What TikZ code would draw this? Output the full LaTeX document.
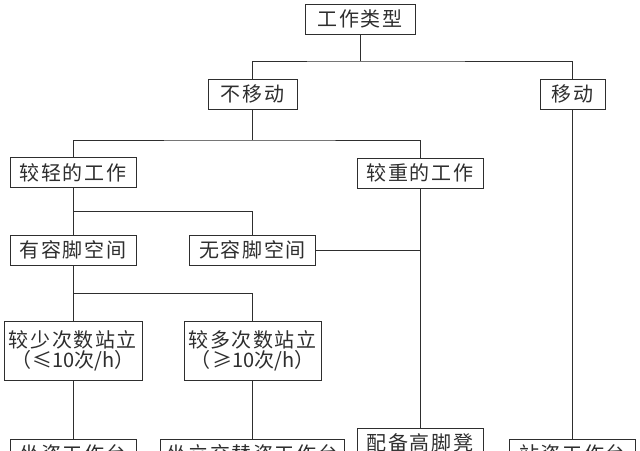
\documentclass[tikz,border=0pt]{standalone}
\usepackage{fontspec}
\setmainfont{Noto Sans CJK SC}[LetterSpace=8]
\usetikzlibrary{calc}
\definecolor{ink}{gray}{0.18}
\newcommand{\tight}[1]{{\addfontfeature{LetterSpace=0}#1}}
\tikzset{
  box/.style={draw=ink, line width=1pt, fill=white, inner sep=0pt, minimum height=30pt,
    font=\fontsize{20}{20}\selectfont, text=ink, align=center},
  link/.style={draw=ink, line width=0.9pt}
}
\begin{document}
\begin{tikzpicture}[x=1pt,y=-1pt]
\fill[white] (0,0) rectangle (640,450);
\useasboundingbox (0,0) rectangle (640,450);
\clip (0,0) rectangle (640,450);
% nodes
\node[box, minimum width=110pt] (top)   at (360,19)    {工作类型};
\node[box, minimum width=89pt]  (nm)    at (252.5,94)  {不移动};
\node[box, minimum width=65pt]  (mv)    at (572.5,94)  {移动};
\node[box, minimum width=126pt] (light) at (73,172.5)  {较轻的工作};
\node[box, minimum width=126pt] (heavy) at (420,173)   {较重的工作};
\node[box, minimum width=126pt] (yes)   at (73,250)    {有容脚空间};
\node[box, minimum width=126pt] (no)    at (252.5,250) {无容脚空间};
\node[box, minimum width=138pt, minimum height=59pt] (few)  at (73,350.5)
  {较少次数站立\\（≤\tight{10}次\tight{/h}）};
\node[box, minimum width=137pt, minimum height=59pt] (many) at (252.5,350.5)
  {较多次数站立\\（≥\tight{10}次\tight{/h}）};
\node[box, minimum width=126pt] (b1) at (73,454)    {坐姿工作台};
\node[box, minimum width=184pt] (b2) at (252.5,454) {坐立交替姿工作台};
\node[box, minimum width=126pt] (b3) at (420,443)   {配备高脚凳};
\node[box, minimum width=126pt] (b4) at (572.5,454) {站姿工作台};
% junctions
\coordinate (j1) at (360,61);
\coordinate (j2) at (252.5,140);
\coordinate (j3) at ($(light.south)!0.5!(yes.north)$);
\coordinate (j4) at ($(yes.south)!0.5!(few.north)$);
% connectors
\draw[link] (top.south) -- (j1);
\draw[link] (nm.north) |- (j1) -| (mv.north);
\draw[link] (nm.south) -- (j2);
\draw[link] (light.north) |- (j2) -| (heavy.north);
\draw[link] (light.south) -- (yes.north);
\draw[link] (j3) -| (no.north);
\draw[link] (yes.south) -- (few.north);
\draw[link] (j4) -| (many.north);
\draw[link] (no.east) -- (no.east -| heavy.south);
\draw[link] (heavy.south) -- (b3.north);
\draw[link] (few.south) -- (b1.north);
\draw[link] (many.south) -- (b2.north);
\draw[link] (mv.south) -- (b4.north);
\end{tikzpicture}
\end{document}
